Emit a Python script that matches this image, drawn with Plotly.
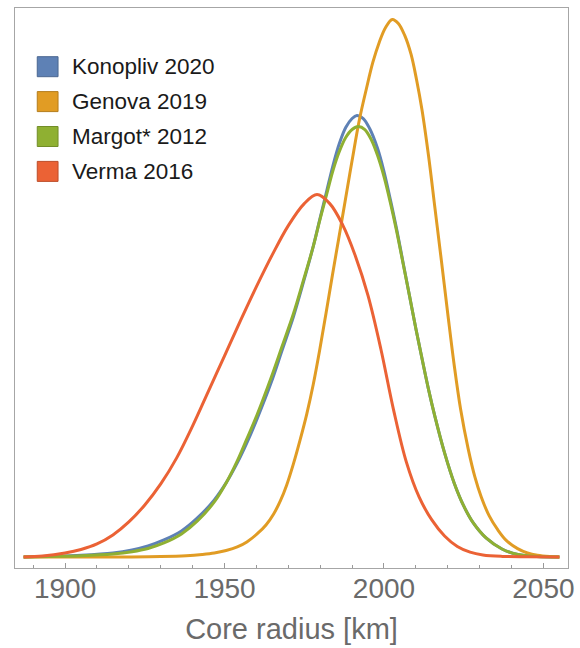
import plotly.graph_objects as go

# Core radius grid (km) and relative probability density of each estimate
konopliv_r = [1887, 1895, 1905, 1915, 1921, 1926, 1931, 1936.5, 1941.5, 1946.8, 1950.5,
              1954, 1957, 1960.2, 1964.6, 1968, 1971.6, 1974.7, 1977.8, 1980, 1982,
              1984, 1986, 1988, 1990, 1991.5, 1993.5, 1995.5, 1998, 2000, 2002,
              2004, 2006, 2008, 2010, 2012, 2014, 2016, 2019, 2022, 2025,
              2028, 2032, 2037, 2042, 2048, 2055]
konopliv_p = [0, 0.7, 1.8, 4, 7, 11, 17, 26, 39, 57, 74,
              94, 114, 138, 174, 206, 240, 274, 310, 339, 365,
              391, 413, 429, 438, 441, 438, 428, 408, 385, 357,
              327, 294, 261, 228, 197, 167, 140, 104, 74, 51,
              34, 19, 8, 2.5, 0.5, 0]

genova_r = [1887, 1920, 1930, 1938, 1943, 1946.8, 1950.5, 1954, 1957, 1960.2, 1963,
            1965.4, 1967.5, 1969.5, 1971.6, 1973.7, 1975.8, 1977.8, 1979.8, 1981.8, 1983.8,
            1985.8, 1987.8, 1990, 1992.3, 1994.5, 1996.5, 1998.5, 2000.5, 2002.6, 2004.5,
            2006.5, 2008.5, 2010.2, 2011.9, 2014, 2016, 2018, 2020, 2022, 2024,
            2026.4, 2028.5, 2030.5, 2033, 2035.7, 2038.5, 2041.9, 2045, 2048.1, 2052, 2055]
genova_p = [0, 0.1, 0.4, 1.2, 2.5, 4, 6.5, 10, 15, 23, 32,
            43, 56, 72, 93, 117, 143, 172, 206, 243, 281,
            318, 355, 396, 437, 468, 494, 514, 529, 537, 533,
            521, 502, 477, 447, 400, 348, 296, 243, 192, 148,
            108, 80, 60, 41, 27, 16, 8.4, 4, 1.7, 0.4, 0]

margot_r = [1887, 1895, 1905, 1915, 1921, 1926, 1931, 1936.5, 1941.5, 1946.8, 1950.5,
            1954, 1957, 1960.2, 1964.6, 1968, 1971.6, 1974.7, 1977.8, 1980, 1982,
            1984, 1986, 1988, 1990, 1992, 1994, 1996, 1998, 2000, 2002,
            2004, 2006, 2008, 2010, 2012, 2014, 2016, 2019, 2022, 2025,
            2028, 2032, 2037, 2042, 2048, 2055]
margot_p = [0, 0.5, 1.3, 3, 5.3, 8.5, 14, 23, 36, 55, 74,
            96, 118, 142, 179, 210, 243, 276, 310, 338, 362,
            386, 405, 419, 427, 430, 427, 417, 401, 380, 354,
            325, 293, 261, 228, 197, 167, 140, 104, 74, 51,
            34, 19, 8, 2.5, 0.5, 0]

verma_r = [1887, 1893, 1900, 1905, 1910, 1915, 1920, 1925, 1930, 1935, 1940,
           1945, 1950, 1955, 1960, 1965, 1970, 1975, 1979, 1983, 1987,
           1991, 1995, 1999, 2003, 2007, 2011, 2015, 2019, 2023, 2027,
           2031, 2037, 2045, 2055]
verma_p = [0, 1, 4, 7.5, 13, 22, 35, 52, 73, 99, 131,
           166, 201, 236, 270, 302, 331, 353, 362, 353, 332,
           301, 261, 208, 147, 95, 60, 37, 21, 10.5, 4.8,
           2, 0.6, 0.2, 0]

names = ["Konopliv 2020", "Genova 2019", "Margot* 2012", "Verma 2016"]
colors = ["#5E81B5", "#E19C24", "#8FB032", "#EB6235"]
edges = ["#4a6791", "#b47d1d", "#728d28", "#bc4e2a"]
series = [(konopliv_r, konopliv_p), (genova_r, genova_p),
          (margot_r, margot_p), (verma_r, verma_p)]

fig = go.Figure()
for (r, p), name, col in zip(series, names, colors):
    fig.add_trace(go.Scatter(
        x=r, y=p, mode="lines", name=name, showlegend=False,
        line=dict(color=col, width=3, shape="spline", smoothing=1.0),
    ))

# Pixel geometry of the plotting frame
W, H = 580, 648
L, R, T, B = 15, 6, 8, 80
pw, ph = W - L - R, H - T - B

def px_x(x):
    return (x - L) / pw

def px_y(y):
    return (H - B - y) / ph

# Legend: coloured squares with labels
shapes = []
annotations = []
for i, (name, col, ec) in enumerate(zip(names, colors, edges)):
    cy = 66.7 + i * 34.9
    shapes.append(dict(
        type="rect", xref="paper", yref="paper",
        x0=px_x(37.5), x1=px_x(58.5), y0=px_y(cy + 10), y1=px_y(cy - 10),
        fillcolor=col, line=dict(color=ec, width=1),
    ))
    annotations.append(dict(
        xref="paper", yref="paper", x=px_x(71), y=px_y(cy),
        xanchor="left", yanchor="middle", text=name, showarrow=False,
        font=dict(family="Liberation Sans, Arial, sans-serif", size=22.5, color="#1a1a1a"),
    ))

frame = "#a6a6a6"
fig.update_layout(
    width=W, height=H,
    margin=dict(l=L, r=R, t=T, b=B),
    paper_bgcolor="white", plot_bgcolor="white",
    shapes=shapes, annotations=annotations,
    font=dict(family="Liberation Sans, Arial, sans-serif"),
    xaxis=dict(
        range=[1884.3, 2057.7],
        tickvals=[1900, 1950, 2000, 2050],
        ticks="inside", ticklen=5, tickwidth=1, tickcolor="#999999",
        minor=dict(dtick=10, tick0=1900, ticks="inside", ticklen=3, tickcolor="#999999"),
        showgrid=False, zeroline=False,
        showline=True, mirror=True, linecolor=frame, linewidth=1,
        tickfont=dict(size=28, color="#6a6a6a"),
        ticklabelstandoff=-5, ticklabeloverflow="allow",
        title=dict(text="Core radius [km]", font=dict(size=29, color="#6a6a6a"), standoff=16),
    ),
    yaxis=dict(
        range=[-11, 548.4],
        showticklabels=False, ticks="", showgrid=False, zeroline=False,
        showline=True, mirror=True, linecolor=frame, linewidth=1,
    ),
)

fig.write_html("out.html")
